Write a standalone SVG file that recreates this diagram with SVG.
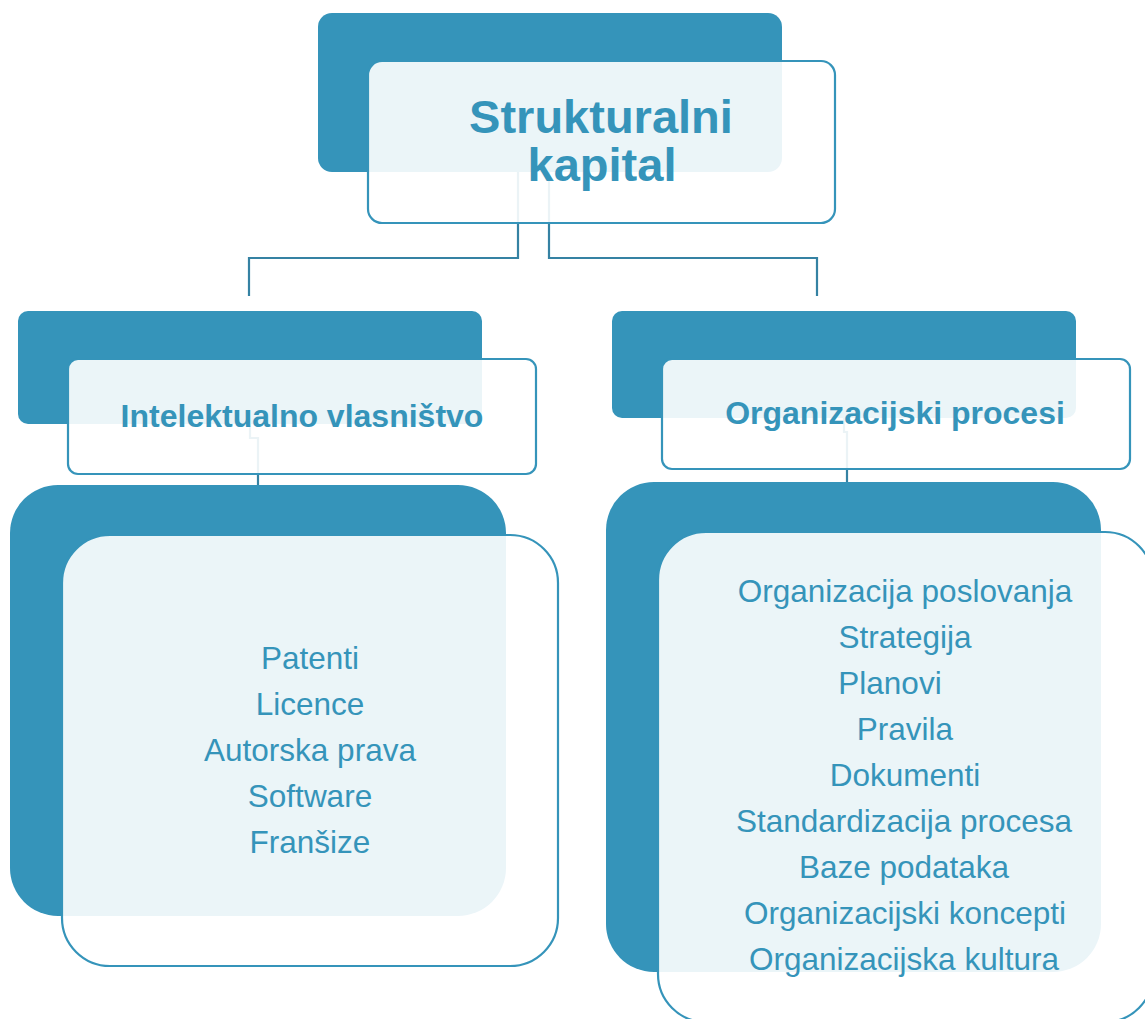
<svg xmlns="http://www.w3.org/2000/svg" width="1145" height="1019" viewBox="0 0 1145 1019">
<style>
.dark{fill:#3594BA;}
.light{fill:#FFFFFF;fill-opacity:0.9;stroke:#3594BA;stroke-width:2.2;}
.conn{fill:none;stroke:#3582A3;stroke-width:2.2;}
.title{font-family:"Liberation Sans",Arial,sans-serif;font-weight:bold;fill:#3594BA;text-anchor:middle;}
.body{font-family:"Liberation Sans",Arial,sans-serif;font-size:31.5px;fill:#3594BA;text-anchor:middle;}
</style>
<rect width="1145" height="1019" fill="#FFFFFF"/>
<g id="node-root-back"><rect class="dark" x="318" y="13" width="464" height="159" rx="14"/></g>
<g id="node-left-back"><rect class="dark" x="18" y="311" width="464" height="113" rx="10"/></g>
<g id="node-right-back"><rect class="dark" x="612" y="311" width="464" height="107" rx="10"/></g>
<g id="node-left-list-back"><rect class="dark" x="10" y="485" width="496" height="431" rx="48"/></g>
<g id="node-right-list-back"><rect class="dark" x="606" y="482" width="495" height="490" rx="48"/></g>
<g id="connectors">
<path class="conn" d="M518 172 V258 H249 V296"/>
<path class="conn" d="M549 172 V258 H817 V296"/>
<path class="conn" d="M250 424 V438 H258 V485"/>
<path class="conn" d="M844 418 V432 H847 V482"/>
</g>
<g id="node-root">
<rect class="light" x="368" y="61" width="467" height="162" rx="14"/>
<text class="title" font-size="47" x="601" y="133">Strukturalni</text>
<text class="title" font-size="47" x="602" y="181">kapital</text>
</g>
<g id="node-left">
<rect class="light" x="68" y="359" width="468" height="115" rx="10"/>
<text class="title" font-size="32" x="302" y="427">Intelektualno vlasništvo</text>
</g>
<g id="node-right">
<rect class="light" x="662" y="359" width="468" height="110" rx="10"/>
<text class="title" font-size="32" x="895" y="424">Organizacijski procesi</text>
</g>
<g id="node-left-list">
<rect class="light" x="62" y="535" width="496" height="431" rx="48"/>
<text class="body" x="310" y="669">Patenti</text>
<text class="body" x="310" y="715">Licence</text>
<text class="body" x="310" y="761">Autorska prava</text>
<text class="body" x="310" y="807">Software</text>
<text class="body" x="310" y="853">Franšize</text>
</g>
<g id="node-right-list">
<rect class="light" x="658" y="532" width="495" height="490" rx="48"/>
<text class="body" x="905" y="602">Organizacija poslovanja</text>
<text class="body" x="905" y="648">Strategija</text>
<text class="body" x="890" y="694">Planovi</text>
<text class="body" x="905" y="740">Pravila</text>
<text class="body" x="905" y="786">Dokumenti</text>
<text class="body" x="904" y="832">Standardizacija procesa</text>
<text class="body" x="904" y="878">Baze podataka</text>
<text class="body" x="905" y="924">Organizacijski koncepti</text>
<text class="body" x="904" y="970">Organizacijska kultura</text>
</g>
</svg>
